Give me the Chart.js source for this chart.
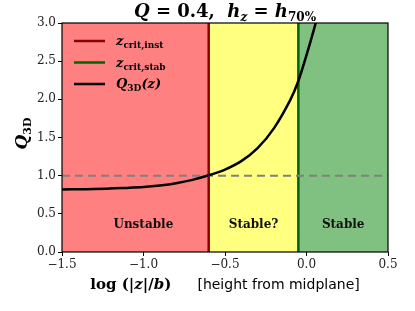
<!DOCTYPE html>
<html>
<head>
<meta charset="utf-8">
<script src="https://cdn.jsdelivr.net/npm/chart.js@4.4.1/dist/chart.umd.min.js"></script>
<style>
  html, body { margin: 0; padding: 0; background: #fff; }
  #wrap { width: 415px; height: 311px; }
</style>
</head>
<body>
<div id="wrap"><canvas id="qchart" width="415" height="311"></canvas></div>
<script>
// curve Q_3D(z)
const logZ = [-1.5, -1.3, -1.1, -1.0, -0.9, -0.8, -0.7, -0.6, -0.5, -0.4, -0.3, -0.2, -0.1, -0.05, 0.0, 0.05, 0.07];
const q3d = [0.82, 0.825, 0.84, 0.85, 0.87, 0.90, 0.945, 1.005, 1.08, 1.19, 1.36, 1.62, 1.99, 2.24, 2.58, 2.95, 3.12];

const zCritInst = -0.6;
const zCritStab = -0.05;
const qThreshold = 1.0;

const xRange = [-1.5, 0.5];
const yRange = [0.0, 3.0];
const xTicks = [-1.5, -1.0, -0.5, 0.0, 0.5];
const yTicks = [0.0, 0.5, 1.0, 1.5, 2.0, 2.5, 3.0];

const regionNames = ["Unstable", "Stable?", "Stable"];
const regionColors = ["#ff8080", "#ffff80", "#80c080"];

const SERIF = '"DejaVu Serif", serif';
const SANS = '"DejaVu Sans", sans-serif';

// draw a row of text pieces (for sub-scripts)
function drawParts(c, parts, x, y, align) {
  let w = 0;
  parts.forEach(p => { c.font = p.font; w += c.measureText(p.t).width; });
  let cx = align === "center" ? x - w / 2 : x;
  c.textAlign = "left";
  c.textBaseline = "alphabetic";
  parts.forEach(p => {
    c.font = p.font;
    c.fillText(p.t, cx, y + (p.dy || 0));
    cx += c.measureText(p.t).width;
  });
}

const decor = {
  id: "decor",
  beforeDatasetsDraw(chart) {
    const c = chart.ctx, xs = chart.scales.x, ys = chart.scales.y;
    const edges = [xRange[0], zCritInst, zCritStab, xRange[1]];
    c.save();
    for (let i = 0; i < 3; i++) {
      const x0 = xs.getPixelForValue(edges[i]), x1 = xs.getPixelForValue(edges[i + 1]);
      c.fillStyle = regionColors[i];
      c.fillRect(x0, ys.top, x1 - x0, ys.bottom - ys.top);
      c.fillStyle = "#111";
      drawParts(c, [{ t: regionNames[i], font: "bold 12px " + SERIF }], (x0 + x1) / 2 + (i === 0 ? 8 : 0), ys.getPixelForValue(0.31), "center");
    }
    c.restore();
  },
  afterDraw(chart) {
    const c = chart.ctx, a = chart.chartArea;
    c.save();
    c.strokeStyle = "#000";
    c.lineWidth = 1.2;
    c.strokeRect(a.left, a.top, a.right - a.left, a.bottom - a.top);
    c.fillStyle = "#000";

    // title
    drawParts(c, [
      { t: "Q", font: "italic bold 18px " + SERIF },
      { t: " = 0.4,  ", font: "bold 18px " + SERIF },
      { t: "h", font: "italic bold 18px " + SERIF },
      { t: "z", font: "italic bold 12px " + SERIF, dy: 4 },
      { t: " = ", font: "bold 18px " + SERIF },
      { t: "h", font: "italic bold 18px " + SERIF },
      { t: "70%", font: "bold 12px " + SERIF, dy: 4 }
    ], (a.left + a.right) / 2, 17, "center");

    // legend
    const leg = [
      { col: "#8b0000", sub: "crit,inst", main: "z", tail: "" },
      { col: "#006400", sub: "crit,stab", main: "z", tail: "" },
      { col: "#000000", sub: "3D", main: "Q", tail: "(z)" }
    ];
    leg.forEach((l, i) => {
      const y = 41 + i * 21.5;
      c.strokeStyle = l.col;
      c.lineWidth = 2.5;
      c.beginPath(); c.moveTo(74, y); c.lineTo(105, y); c.stroke();
      const parts = [
        { t: l.main, font: "italic bold 13px " + SERIF, dy: 4 },
        { t: l.sub, font: "bold 9px " + SERIF, dy: 7 }
      ];
      if (l.tail) parts.push({ t: l.tail, font: "italic bold 13px " + SERIF, dy: 4 });
      drawParts(c, parts, 116, y, "left");
    });

    // x axis title
    drawParts(c, [
      { t: "log (|", font: "bold 15px " + SERIF },
      { t: "z", font: "italic bold 15px " + SERIF },
      { t: "|/", font: "bold 15px " + SERIF },
      { t: "b", font: "italic bold 15px " + SERIF },
      { t: ")     ", font: "bold 15px " + SERIF },
      { t: "[height from midplane]", font: "14px " + SANS }
    ], 225, 289, "center");

    // y axis title
    c.translate(27, (a.top + a.bottom) / 2 - 4);
    c.rotate(-Math.PI / 2);
    drawParts(c, [
      { t: "Q", font: "italic bold 17px " + SERIF },
      { t: "3D", font: "bold 11px " + SERIF, dy: 4 }
    ], 0, 0, "center");
    c.restore();
  }
};

new Chart(document.getElementById("qchart"), {
  type: "scatter",
  data: {
    datasets: [
      {
        data: logZ.map((x, i) => ({ x: x, y: q3d[i] })),
        showLine: true, borderColor: "#000", borderWidth: 2.5, pointRadius: 0, order: 1,
        tension: 0.3
      },
      {
        data: xRange.map(x => ({ x: x, y: qThreshold })),
        showLine: true, borderColor: "#808080", borderWidth: 2, borderDash: [8, 5], pointRadius: 0, order: 2
      },
      {
        data: yRange.map(y => ({ x: zCritInst, y: y })),
        showLine: true, borderColor: "#8b0000", borderWidth: 2.5, pointRadius: 0, order: 3
      },
      {
        data: yRange.map(y => ({ x: zCritStab, y: y })),
        showLine: true, borderColor: "#006400", borderWidth: 2.5, pointRadius: 0, order: 3
      }
    ]
  },
  options: {
    responsive: false,
    animation: false,
    layout: { padding: { top: 23, right: 27, left: 0, bottom: 0 } },
    plugins: { legend: { display: false }, tooltip: { enabled: false } },
    scales: {
      x: {
        type: "linear", min: xRange[0], max: xRange[1],
        afterBuildTicks: s => { s.ticks = xTicks.map(v => ({ value: v })); },
        afterFit: s => { s.height = 59; },
        grid: { drawOnChartArea: false, color: "#000", tickLength: 4, tickWidth: 1 },
        border: { display: false },
        ticks: {
          color: "#222", padding: 2, maxRotation: 0,
          font: { family: SERIF, size: 12 },
          callback: v => v.toFixed(1).replace("-", "\u2212")
        }
      },
      y: {
        type: "linear", min: yRange[0], max: yRange[1],
        afterBuildTicks: s => { s.ticks = yTicks.map(v => ({ value: v })); },
        afterFit: s => { s.width = 62; },
        grid: { drawOnChartArea: false, color: "#000", tickLength: 4, tickWidth: 1 },
        border: { display: false },
        ticks: {
          color: "#222", padding: 2,
          font: { family: SERIF, size: 12 },
          callback: v => v.toFixed(1)
        }
      }
    }
  },
  plugins: [decor]
});
</script>
</body>
</html>
